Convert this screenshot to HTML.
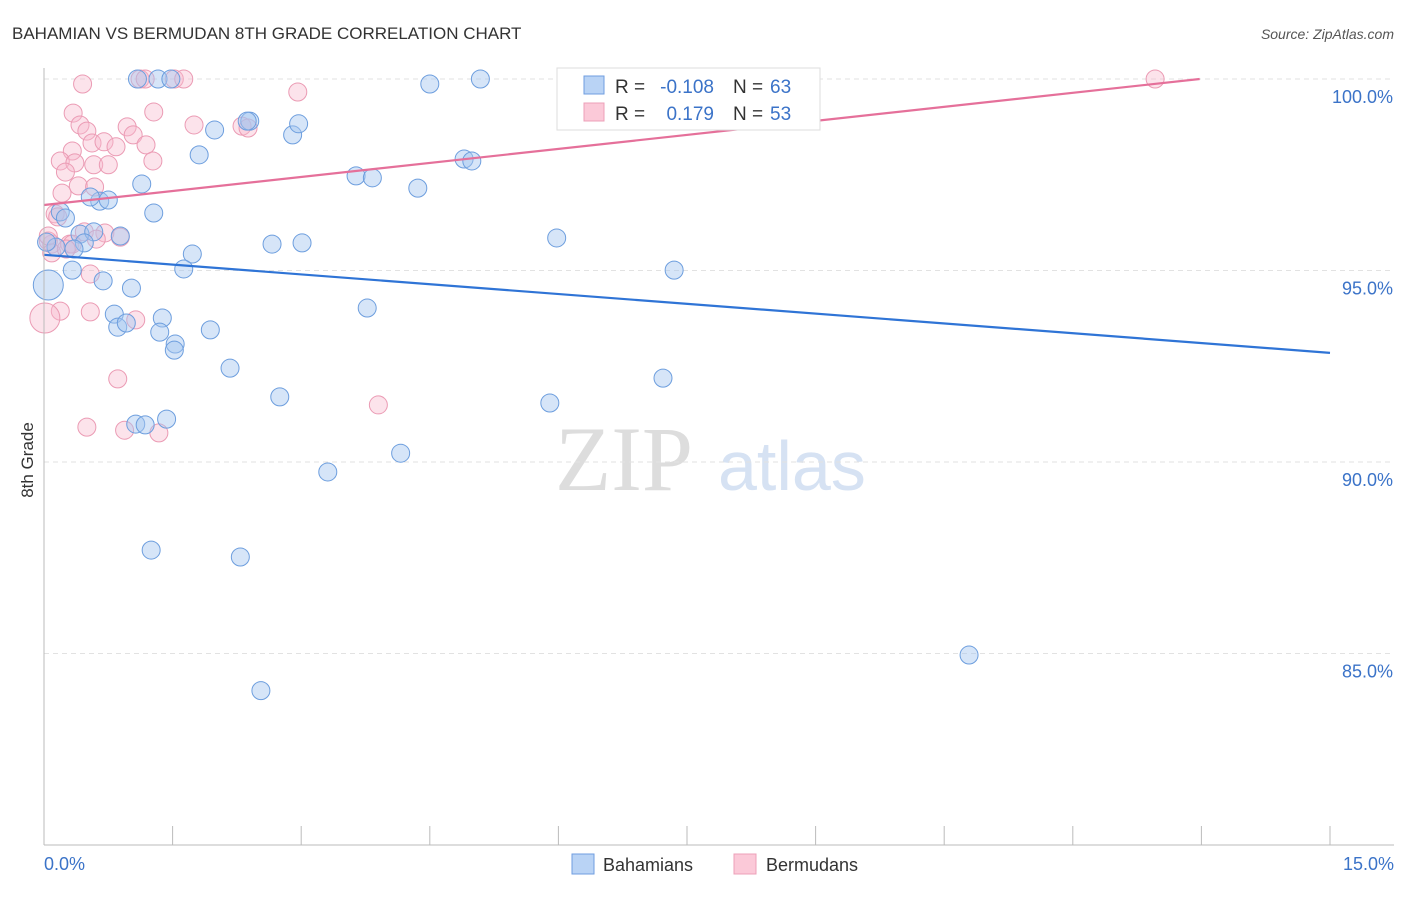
<!DOCTYPE html>
<html><head><meta charset="utf-8"><style>
body{margin:0;background:#fff;font-family:"Liberation Sans",sans-serif}
</style></head><body>
<svg id="c" width="1406" height="892" xmlns="http://www.w3.org/2000/svg">
<text x="12" y="39" font-size="17" fill="#333">BAHAMIAN VS BERMUDAN 8TH GRADE CORRELATION CHART</text>
<text x="1394" y="39" font-size="14" fill="#555" font-style="italic" text-anchor="end">Source: ZipAtlas.com</text>
<text x="33" y="460" font-size="17" fill="#333" transform="rotate(-90 33 460)" text-anchor="middle">8th Grade</text>
<text x="555" y="490" font-size="92" fill="#ddd" font-family="Liberation Serif">ZIP</text>
<text x="718" y="490" font-size="70" fill="#d6e2f3">atlas</text>
<g id="grid"></g><g id="pts"></g><g id="lines"></g>
<line x1="44" y1="68" x2="44" y2="845" stroke="#bbb"/>
<line x1="44" y1="845" x2="1394" y2="845" stroke="#bbb"/>
<text x="44" y="870" font-size="18" fill="#3b73c8">0.0%</text>
<text x="1394" y="870" font-size="18" fill="#3b73c8" text-anchor="end">15.0%</text>
<g font-size="19">
<rect x="557" y="68" width="263" height="62" fill="#fff" stroke="#ddd"/>
<rect x="584" y="76" width="20" height="18" fill="#b9d3f5" stroke="#6f9ee0"/>
<rect x="584" y="103" width="20" height="18" fill="#fbc9d8" stroke="#eda0b8"/>
<text x="615" y="93" fill="#333">R =</text>
<text x="714" y="93" fill="#3b73c8" text-anchor="end">-0.108</text>
<text x="733" y="93" fill="#333">N =</text>
<text x="770" y="93" fill="#3b73c8">63</text>
<text x="615" y="120" fill="#333">R =</text>
<text x="714" y="120" fill="#3b73c8" text-anchor="end">0.179</text>
<text x="733" y="120" fill="#333">N =</text>
<text x="770" y="120" fill="#3b73c8">53</text>
</g>
<g>
<rect x="572" y="854" width="22" height="20" fill="#b9d3f5" stroke="#6f9ee0"/>
<text x="603" y="871" font-size="18" fill="#333">Bahamians</text>
<rect x="734" y="854" width="22" height="20" fill="#fbc9d8" stroke="#eda0b8"/>
<text x="766" y="871" font-size="18" fill="#333">Bermudans</text>
</g>
</svg>
<script>
const yTicks=[100,95,90,85];
const xTicks=[0,1.5,3,4.5,6,7.5,9,10.5,12,13.5,15];
const blueX=[1.09,1.33,1.48,4.50,5.09,7.49,1.99,1.81,2.40,2.37,2.90,2.97,1.14,1.28,0.65,0.75,0.54,0.19,0.25,0.42,0.58,0.47,0.35,0.89,3.64,3.83,4.36,4.90,4.99,2.66,3.01,1.73,1.63,5.98,7.35,0.33,0.69,1.02,0.82,0.86,0.96,1.38,1.35,1.53,1.52,1.94,3.77,2.17,2.75,5.90,7.22,1.07,1.18,1.43,3.31,4.16,1.25,2.29,2.53,10.79,0.05,0.14,0.03];
const blueY=[100,100,100,99.87,100,100,98.67,98.02,98.90,98.90,98.54,98.83,97.26,96.50,96.81,96.84,96.92,96.53,96.37,95.95,96.01,95.72,95.56,95.90,97.47,97.42,97.15,97.91,97.86,95.69,95.72,95.43,95.04,95.85,95.01,95.01,94.73,94.54,93.86,93.52,93.63,93.76,93.39,93.08,92.92,93.45,94.02,92.45,91.70,91.54,92.19,90.99,90.97,91.12,89.74,90.23,87.70,87.52,84.03,84.96,94.62,95.61,95.74];
const pinkX=[0.45,1.12,1.18,1.52,1.63,2.96,0.34,1.28,1.75,0.42,0.50,0.97,1.04,2.31,2.38,0.56,0.70,0.84,1.19,0.33,0.19,0.36,0.58,0.75,1.27,0.25,0.40,0.59,0.21,0.13,0.16,0.09,0.05,0.30,0.47,0.71,0.89,0.05,0.09,0.54,0.19,0.54,1.07,0.01,0.86,0.50,0.94,1.34,3.90,12.96,0.33,0.61,0.26];
const pinkY=[99.87,100,100,100,100,99.66,99.11,99.14,98.80,98.80,98.64,98.75,98.54,98.77,98.72,98.33,98.36,98.23,98.28,98.12,97.86,97.81,97.76,97.76,97.86,97.57,97.21,97.18,97.02,96.48,96.40,95.69,95.77,95.69,96.01,95.98,95.87,95.90,95.46,94.91,93.94,93.92,93.71,93.76,92.17,90.91,90.83,90.76,91.49,100,95.69,95.82,95.56];
const blueLine=[95.41,92.85];
const pinkLine=[96.71,100];
const X=v=>44+v/15*1286, Y=v=>79+(100-v)*38.3;
const NS='http://www.w3.org/2000/svg';
const grid=document.getElementById('grid');
yTicks.forEach(t=>{
 const l=document.createElementNS(NS,'line');
 l.setAttribute('x1',44);l.setAttribute('x2',1394);l.setAttribute('y1',Y(t));l.setAttribute('y2',Y(t));
 l.setAttribute('stroke','#e2e2e2');l.setAttribute('stroke-dasharray','5,4');
 
 
 grid.appendChild(l);
 const tx=document.createElementNS(NS,'text');
 tx.setAttribute('x',1393);tx.setAttribute('y',Y(t)+24);tx.setAttribute('text-anchor','end');
 tx.setAttribute('font-size','18');tx.setAttribute('fill','#3b73c8');tx.textContent=t.toFixed(1)+'%';
 
 
 grid.appendChild(tx);
});
xTicks.forEach(t=>{
 const l=document.createElementNS(NS,'line');
 l.setAttribute('x1',X(t));l.setAttribute('x2',X(t));l.setAttribute('y1',826);l.setAttribute('y2',845);
 l.setAttribute('stroke','#bbb');
 
 
 grid.appendChild(l);
});
const pts=document.getElementById('pts');
function dots(xs,ys,fill,stroke,name){
 xs.forEach((x,i)=>{
  const c=document.createElementNS(NS,'circle');
  c.setAttribute('cx',X(x));c.setAttribute('cy',Y(ys[i]));c.setAttribute('r',(i===60&&name==='bahamian-point')||(i===43&&name==='bermudan-point')?15:9);
  c.setAttribute('fill',fill);c.setAttribute('stroke',stroke);c.setAttribute('stroke-width','1');
  
  
  pts.appendChild(c);
 });
}
dots(pinkX,pinkY,'rgba(248,185,205,0.4)','#eb9bb4','bermudan-point');
dots(blueX,blueY,'rgba(165,198,240,0.45)','#6d9ede','bahamian-point');
const lines=document.getElementById('lines');
const bl=document.createElementNS(NS,'line');
bl.setAttribute('x1',X(0));bl.setAttribute('y1',Y(blueLine[0]));bl.setAttribute('x2',X(15));bl.setAttribute('y2',Y(blueLine[1]));
bl.setAttribute('stroke','#2f74d6');bl.setAttribute('stroke-width','2.2');


lines.appendChild(bl);
const pl=document.createElementNS(NS,'line');
pl.setAttribute('x1',X(0));pl.setAttribute('y1',Y(pinkLine[0]));pl.setAttribute('x2',X(13.48));pl.setAttribute('y2',Y(pinkLine[1]));
pl.setAttribute('stroke','#e5709a');pl.setAttribute('stroke-width','2.2');


lines.appendChild(pl);
</script>
</body></html>
